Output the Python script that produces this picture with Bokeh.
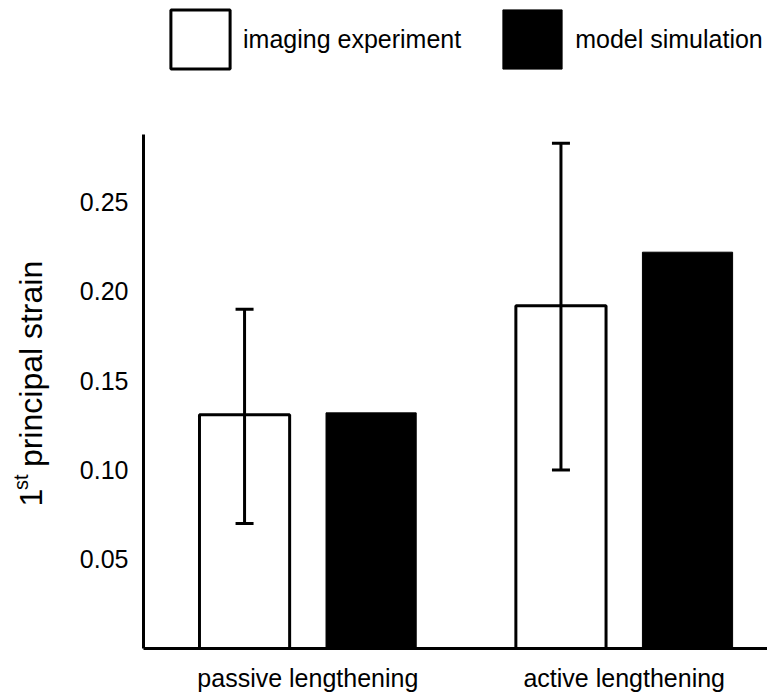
import math
from bokeh.plotting import figure
from bokeh.layouts import row
from bokeh.models import (ColumnDataSource, Range1d, FixedTicker, Whisker, TeeHead,
                          Legend, LegendItem)
from bokeh.core.properties import value
from bokeh.embed import file_html
from bokeh.resources import INLINE

# ---- data ----
groups = ["passive lengthening", "active lengthening"]
group_pos = [1, 2]
imaging = [0.131, 0.192]
model = [0.132, 0.222]
err_lower = [0.070, 0.100]
err_upper = [0.190, 0.283]
y_ticks = [0.05, 0.10, 0.15, 0.20, 0.25]
series_names = ["imaging experiment", "model simulation"]
y_title = ["1", "st", "principal strain"]

OFFSET = 0.2
BAR_W = 0.285
FONT = "Liberation Sans"
LW = 3

X0, X1 = 0.4806, 2.4528
Y0, Y1 = 0.0, 0.363
AXIS_TOP = 0.288

LEFT_W = 60
p = figure(width=767 - LEFT_W, height=694, x_range=Range1d(X0, X1), y_range=Range1d(Y0, Y1),
           output_backend="svg", toolbar_location=None,
           min_border_left=83, min_border_right=0, min_border_top=0, min_border_bottom=46)
p.grid.visible = False
p.outline_line_color = None

src_img = ColumnDataSource(dict(x=[g - OFFSET for g in group_pos], top=imaging,
                                lower=err_lower, upper=err_upper))
src_mod = ColumnDataSource(dict(x=[g + OFFSET for g in group_pos], top=model))

r1 = p.vbar(x="x", top="top", bottom=0, width=BAR_W, source=src_img,
            fill_color="white", line_color="black", line_width=LW)
r2 = p.vbar(x="x", top="top", bottom=0, width=BAR_W, source=src_mod,
            fill_color="black", line_color="black", line_width=1)

wh = Whisker(base="x", lower="lower", upper="upper", source=src_img, dimension="height",
             line_color="black", line_width=LW,
             upper_head=TeeHead(size=18, line_width=LW, line_color="black"),
             lower_head=TeeHead(size=18, line_width=LW, line_color="black"))
wh.level = "overlay"
p.add_layout(wh)

# axes
xa = p.xaxis[0]
xa.ticker = FixedTicker(ticks=group_pos)
xa.major_label_overrides = {g: n for g, n in zip(group_pos, groups)}
ya = p.yaxis[0]
ya.ticker = FixedTicker(ticks=y_ticks)
ya.major_label_overrides = {t: f"{t:.2f}" for t in y_ticks}
ya.bounds = (0, AXIS_TOP)
for ax in (xa, ya):
    ax.axis_line_width = LW
    ax.axis_line_color = "black"
    ax.major_tick_in = 0
    ax.major_tick_out = 0
    ax.minor_tick_in = 0
    ax.minor_tick_out = 0
    ax.major_tick_line_color = None
    ax.minor_tick_line_color = None
    ax.major_label_text_font = FONT
    ax.major_label_text_font_size = "25px"
    ax.major_label_text_color = "black"
xa.major_label_standoff = 15
ya.major_label_standoff = 15

legend = Legend(items=[LegendItem(label=series_names[0], renderers=[r1]),
                       LegendItem(label=series_names[1], renderers=[r2])],
                orientation="horizontal", location=(20, 572),
                glyph_width=74, glyph_height=74, label_standoff=6, spacing=34,
                padding=0, margin=0, border_line_color=None, background_fill_alpha=0,
                label_text_font=FONT, label_text_font_size="25px", label_text_color="black")
p.add_layout(legend)

# ---- y-axis title (with superscript) in a narrow side figure ----
lf = figure(width=LEFT_W, height=694, x_range=Range1d(0, LEFT_W), y_range=Range1d(0, 694),
            output_backend="svg", toolbar_location=None, x_axis_type=None, y_axis_type=None,
            min_border=0)
lf.grid.visible = False
lf.outline_line_color = None
tsrc = ColumnDataSource(dict(x=[30, 20, 30], y=[152, 169.8, 194.3], text=y_title,
                             size=["32px", "20px", "32px"]))
lf.text(x="x", y="y", text="text", source=tsrc, angle=math.pi / 2,
        text_font=value(FONT), text_font_size="size", text_color="black",
        text_align="left", text_baseline="alphabetic")

layout = row(lf, p, spacing=0)
open("out.html", "w").write(file_html(layout, INLINE))
